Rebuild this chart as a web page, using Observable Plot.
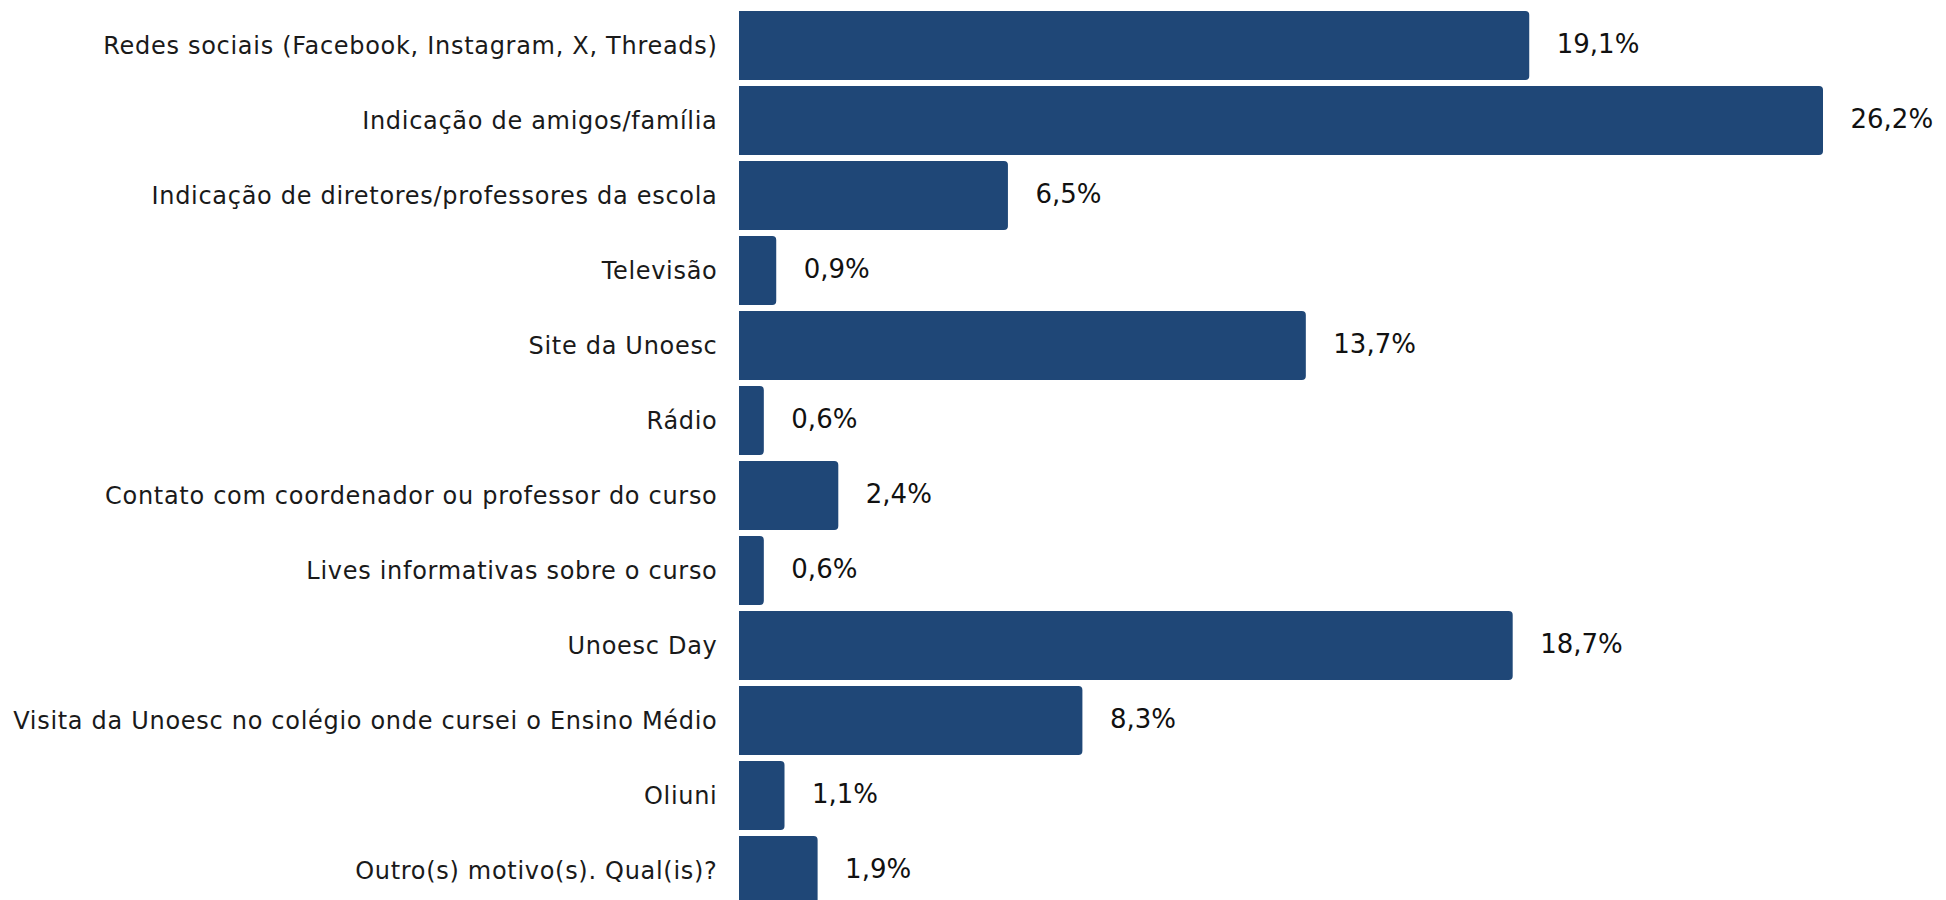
<!DOCTYPE html>
<html>
<head>
<meta charset="utf-8">
<script src="https://cdn.jsdelivr.net/npm/d3@7"></script>
<script src="https://cdn.jsdelivr.net/npm/@observablehq/plot@0.6"></script>
<style>
  html, body { margin: 0; padding: 0; background: #fff; overflow: hidden; }
  .ylab text { letter-spacing: 0.7px; }
</style>
</head>
<body>
<div id="chart"></div>
<script>
const categories = [
  "Redes sociais (Facebook, Instagram, X, Threads)",
  "Indicação de amigos/família",
  "Indicação de diretores/professores da escola",
  "Televisão",
  "Site da Unoesc",
  "Rádio",
  "Contato com coordenador ou professor do curso",
  "Lives informativas sobre o curso",
  "Unoesc Day",
  "Visita da Unoesc no colégio onde cursei o Ensino Médio",
  "Oliuni",
  "Outro(s) motivo(s). Qual(is)?"
];
const values = [19.1, 26.2, 6.5, 0.9, 13.7, 0.6, 2.4, 0.6, 18.7, 8.3, 1.1, 1.9];

const data = categories.map((c, i) => ({category: c, value: values[i]}));
const fmt = v => v.toFixed(1).replace(".", ",") + "%";

const chart = Plot.plot({
  width: 1946,
  height: 900,
  marginLeft: 739,
  marginRight: 123,
  marginTop: 0,
  marginBottom: 0,
  style: {fontFamily: "'DejaVu Sans', sans-serif", background: "#fff", overflow: "visible"},
  x: {domain: [0, d3.max(values)], range: [739, 1823], axis: null},
  y: {domain: categories, range: [11, 905], paddingInner: 0.08, paddingOuter: 0, label: null},
  marks: [
    Plot.barX(data, {
      y: "category",
      x1: -0.3,
      x2: "value",
      fill: "#1f4777",
      rx: 4,
      clip: true
    }),
    Plot.text(data, {
      y: "category",
      x: "value",
      text: d => fmt(d.value),
      textAnchor: "start",
      dx: 27,
      dy: -1,
      fontSize: 26,
      fill: "#111"
    }),
    Plot.axisY({
      tickSize: 0,
      tickPadding: 22,
      fontSize: 24,
      fill: "#1a1a1a",
      label: null,
      className: "ylab"
    })
  ]
});
document.getElementById("chart").appendChild(chart);
</script>
</body>
</html>
